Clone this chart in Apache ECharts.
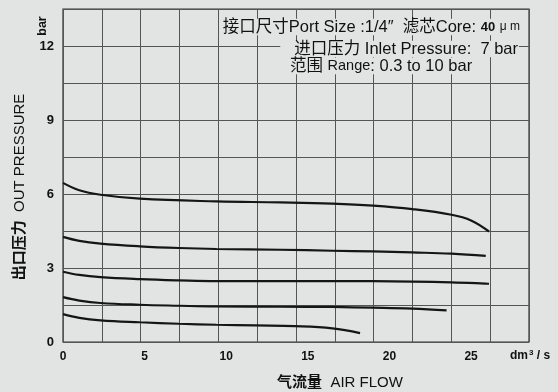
<!DOCTYPE html>
<html>
<head>
<meta charset="utf-8">
<script src="https://cdn.jsdelivr.net/npm/echarts@6/dist/echarts.min.js"></script>
<style>
  html, body { margin: 0; padding: 0; background: #e1e4e3; }
  #main { width: 558px; height: 392px; }
</style>
</head>
<body>
<div id="main"></div>
<script>
// flow in dm3/s, outlet pressure in bar
const curve1 = [[0, 6.45], [1, 6.15], [2.3, 5.97], [4.7, 5.81], [9.4, 5.7], [13.3, 5.66], [16.5, 5.61], [19, 5.53], [21.4, 5.39], [23.8, 5.16], [25, 4.93], [26.1, 4.48]];
const curve2 = [[0, 4.26], [1, 4.1], [2.3, 3.99], [4.7, 3.88], [7.1, 3.81], [9.4, 3.77], [13.3, 3.74], [16.5, 3.7], [19, 3.67], [21.4, 3.63], [23.8, 3.58], [25.9, 3.49]];
const curve3 = [[0, 2.85], [1, 2.72], [2.3, 2.63], [4.7, 2.55], [7.1, 2.5], [9.4, 2.47], [13.3, 2.47], [16.5, 2.47], [21.4, 2.45], [23.8, 2.42], [26.1, 2.36]];
const curve4 = [[0, 1.82], [1, 1.68], [2.3, 1.58], [4.7, 1.51], [7.1, 1.47], [9.4, 1.44], [13.3, 1.43], [16.5, 1.42], [19, 1.39], [21.4, 1.35], [23.5, 1.28]];
const curve5 = [[0, 1.13], [1, 0.98], [2.3, 0.88], [4.7, 0.8], [7.1, 0.74], [9.4, 0.7], [11.8, 0.67], [14.2, 0.64], [16.5, 0.55], [18.2, 0.36]];
const yTicks = [0, 3, 6, 9, 12];
const xTicks = [0, 5, 10, 15, 20, 25];

const latin = "'Liberation Sans', 'Noto Sans CJK SC', sans-serif";
const bg = "#e1e4e3";
const chart = echarts.init(document.getElementById("main"));

const lineSeries = [curve1, curve2, curve3, curve4, curve5].map((d) => ({
  type: "line",
  data: d,
  xAxisIndex: 1,
  yAxisIndex: 0,
  smooth: 0.4,
  symbol: "none",
  silent: true,
  lineStyle: { color: "#151515", width: 2.2 },
}));

chart.setOption({
  backgroundColor: bg,
  animation: false,
  grid: {
    left: 63,
    right: 29,
    top: 9,
    bottom: 50,
    containLabel: false,
    outerBoundsMode: "none",
    show: true,
    borderColor: "#333",
    borderWidth: 1.2,
  },
  xAxis: [
    {
      // grid columns only
      type: "value",
      position: "top",
      min: 0,
      max: 12,
      interval: 1,
      axisLine: { show: false },
      axisTick: { show: false },
      axisLabel: { show: false },
      splitLine: { show: true, lineStyle: { color: "#555", width: 1 } },
    },
    {
      type: "value",
      position: "bottom",
      min: 0,
      max: 28.55,
      interval: 5,
      axisLine: { show: false },
      axisTick: { show: false },
      splitLine: { show: false },
      axisLabel: {
        margin: 9,
        color: "#111",
        fontWeight: "bold",
        fontSize: 12,
        fontFamily: latin,
        showMaxLabel: false,
        formatter: (v) => (xTicks.includes(v) ? String(v) : ""),
      },
    },
  ],
  yAxis: {
    type: "value",
    min: 0,
    max: 13.5,
    interval: 1.5,
    axisLine: { show: false },
    axisTick: { show: false },
    splitLine: { show: true, lineStyle: { color: "#555", width: 1 } },
    axisLabel: {
      margin: 9,
      color: "#111",
      fontWeight: "bold",
      fontSize: 13,
      fontFamily: latin,
      formatter: (v) => (yTicks.includes(v) ? String(v) : ""),
    },
  },
  series: lineSeries,
  graphic: [
    {
      type: "text",
      x: 520,
      y: 27,
      z: 10,
      style: {
        text: "接口尺寸Port Size :1/4″  滤芯Core: {b|40} {s|μ m}",
        align: "right",
        verticalAlign: "middle",
        fill: "#111",
        font: "16.5px " + latin,
        backgroundColor: bg,
        padding: [0, 0, 0, 1],
        rich: {
          b: { fontWeight: "bold", fontSize: 13, fill: "#111", fontFamily: latin },
          s: { fontSize: 12, fill: "#111", fontFamily: latin },
        },
      },
    },
    {
      type: "text",
      x: 519,
      y: 49,
      z: 10,
      style: {
        text: "进口压力 Inlet Pressure:  7 bar",
        align: "right",
        verticalAlign: "middle",
        fill: "#111",
        font: "16.5px " + latin,
        backgroundColor: bg,
        padding: [0, 1, 0, 14],
      },
    },
    {
      type: "text",
      x: 289,
      y: 66,
      z: 10,
      style: {
        text: "范围 {r|Range}: 0.3 to 10 bar",
        align: "left",
        verticalAlign: "middle",
        fill: "#111",
        font: "16.5px " + latin,
        backgroundColor: bg,
        padding: [0, 1, 0, 1],
        rich: {
          r: { fontSize: 14.5, fill: "#111", fontFamily: latin },
        },
      },
    },
    {
      type: "text",
      x: 43,
      y: 26,
      rotation: Math.PI / 2,
      style: {
        text: "bar",
        align: "center",
        verticalAlign: "middle",
        fill: "#111",
        font: "bold 12.5px " + latin,
      },
    },
    {
      type: "text",
      x: 20,
      y: 187,
      rotation: Math.PI / 2,
      style: {
        text: "{c|出口压力}  OUT PRESSURE",
        align: "center",
        verticalAlign: "middle",
        fill: "#111",
        font: "15px " + latin,
        rich: {
          c: { fontWeight: "bold", fontSize: 15, fill: "#111", fontFamily: latin },
        },
      },
    },
    {
      type: "text",
      x: 510,
      y: 356,
      style: {
        text: "dm{sup|3} / s",
        align: "left",
        verticalAlign: "middle",
        fill: "#111",
        font: "bold 12px " + latin,
        rich: {
          sup: { fontSize: 8, fontWeight: "bold", verticalAlign: "top", padding: [0, 0, 6, 1], fill: "#111", fontFamily: latin },
        },
      },
    },
    {
      type: "text",
      x: 340,
      y: 383,
      style: {
        text: "{c|气流量}  AIR FLOW",
        align: "center",
        verticalAlign: "middle",
        fill: "#111",
        font: "15px " + latin,
        rich: {
          c: { fontWeight: "bold", fontSize: 15, fill: "#111", fontFamily: latin },
        },
      },
    },
  ],
});
</script>
</body>
</html>
